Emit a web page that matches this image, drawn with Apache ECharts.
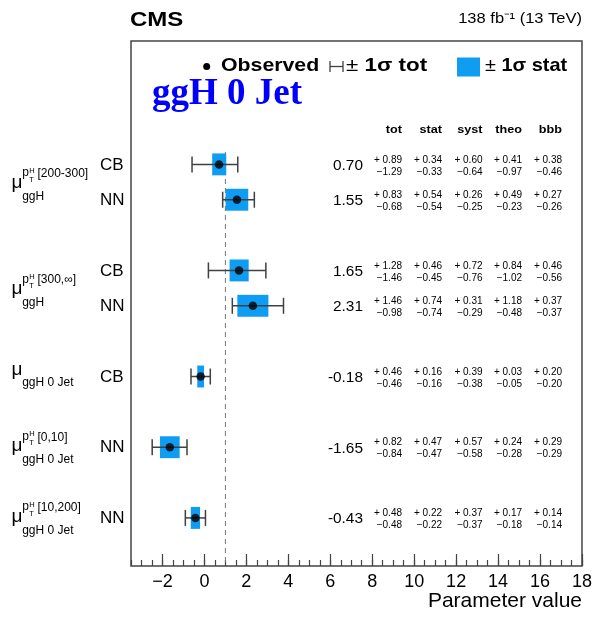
<!DOCTYPE html>
<html><head><meta charset="utf-8">
<script src="https://cdn.jsdelivr.net/npm/echarts@6/dist/echarts.min.js"></script>
<style>html,body{margin:0;padding:0;background:#fff}#c{width:595px;height:617px}</style>
</head><body><div id="c"></div>
<script>
// ---------------- data ----------------
const rowMethod = ['CB','NN','','CB','NN','','CB','','NN','','NN'];
const rowProc   = ['ggH','ggH','','ggH','ggH','','ggH 0 Jet','','ggH 0 Jet','','ggH 0 Jet'];
const rowBin    = ['[200-300]','[200-300]','','[300,\u221e]','[300,\u221e]','','','','[0,10]','','[10,200]'];
const observed  = [0.70, 1.55, null, 1.65, 2.31, null, -0.18, null, -1.65, null, -0.43];
const totUp  = [0.89, 0.83, null, 1.28, 1.46, null, 0.46, null, 0.82, null, 0.48];
const totDn  = [1.29, 0.68, null, 1.46, 0.98, null, 0.46, null, 0.84, null, 0.48];
const statUp = [0.34, 0.54, null, 0.46, 0.74, null, 0.16, null, 0.47, null, 0.22];
const statDn = [0.33, 0.54, null, 0.45, 0.74, null, 0.16, null, 0.47, null, 0.22];
const systUp = [0.60, 0.26, null, 0.72, 0.31, null, 0.39, null, 0.57, null, 0.37];
const systDn = [0.64, 0.25, null, 0.76, 0.29, null, 0.38, null, 0.58, null, 0.37];
const theoUp = [0.41, 0.49, null, 0.84, 1.18, null, 0.03, null, 0.24, null, 0.17];
const theoDn = [0.97, 0.23, null, 1.02, 0.48, null, 0.05, null, 0.28, null, 0.18];
const bbbUp  = [0.38, 0.27, null, 0.46, 0.37, null, 0.20, null, 0.29, null, 0.14];
const bbbDn  = [0.46, 0.26, null, 0.56, 0.37, null, 0.20, null, 0.29, null, 0.14];
const columnNames = ['tot','stat','syst','theo','bbb'];
const xTickValues = [-2, 0, 2, 4, 6, 8, 10, 12, 14, 16, 18];
const smValue = 1;

// ---------------- layout / style ----------------
const SANS = '"Liberation Sans", Arial, Helvetica, sans-serif';
const SERIF = '"Liberation Serif", "Times New Roman", serif';
const BLUE = '#0f9cf3';
const BAR = '#404040';
const X_MIN = -3.5, X_MAX = 18;
const Y_MIN = -3.49, Y_MAX = 11.36;
const BOX_H = 0.62;
const CAP = 16;
const colRight = [402, 442, 482.5, 522, 562];
const colUp = [totUp, statUp, systUp, theoUp, bbbUp];
const colDn = [totDn, statDn, systDn, theoDn, bbbDn];

function txt(x, y, text, font, o) {
  o = o || {};
  const al = o.align || 'left', va = o.va || 'middle';
  return {type: 'text', x: x, y: y, scaleX: o.sx || 1, scaleY: 1, silent: true, z2: 10,
    style: {text: text, font: font, fill: o.fill || '#000', align: al, verticalAlign: va,
            textAlign: al, textVerticalAlign: va, rich: o.rich}};
}

const rowsIdx = observed.map((v, i) => v == null ? null : i).filter(i => i != null);

// group rows into parameter labels
const groups = [];
rowProc.forEach((p, i) => {
  if (!p) return;
  const last = groups[groups.length - 1];
  if (last && last.proc === p && last.bin === rowBin[i] && last.end === i - 1) last.end = i;
  else groups.push({proc: p, bin: rowBin[i], start: i, end: i});
});

const fmt = v => v < 0 ? '\u2212' + Math.abs(v) : String(v);

const chart = echarts.init(document.getElementById('c'), null, {renderer: 'canvas'});
chart.setOption({
  animation: false,
  backgroundColor: '#fff',
  grid: {left: 131, right: 13, top: 41, bottom: 51, show: true, borderColor: '#444', borderWidth: 1.5, backgroundColor: 'transparent'},
  xAxis: [{
    type: 'value', min: X_MIN, max: X_MAX, position: 'bottom',
    axisLine: {show: false, onZero: false}, splitLine: {show: false},
    axisTick: {show: true, inside: true, length: 12, customValues: xTickValues, lineStyle: {color: '#444', width: 1.2}},
    axisLabel: {show: true, customValues: xTickValues, formatter: fmt, fontFamily: SANS, fontSize: 18, color: '#000', margin: 7},
    name: 'Parameter value', nameLocation: 'end', nameGap: 0,
    nameTextStyle: {fontFamily: SANS, fontSize: 21, color: '#000', align: 'right', verticalAlign: 'top', padding: [25, 0, 0, 0]}
  }, {
    type: 'value', min: X_MIN, max: X_MAX, interval: 0.5, position: 'bottom',
    axisLine: {show: false, onZero: false}, splitLine: {show: false}, axisLabel: {show: false},
    axisTick: {show: true, inside: true, length: 6, lineStyle: {color: '#444', width: 1.2}}
  }],
  yAxis: {type: 'value', inverse: true, min: Y_MIN, max: Y_MAX, show: false},
  series: [
    { // SM reference dashed line
      type: 'line', xAxisIndex: 0, symbol: 'none', silent: true, z: 1,
      lineStyle: {color: '#777', width: 1, type: [5, 4]},
      data: [[smValue, -0.35], [smValue, Y_MAX]]
    },
    { // stat boxes
      type: 'custom', xAxisIndex: 0, z: 2, silent: true,
      data: rowsIdx.map(i => [observed[i] - statDn[i], observed[i] + statUp[i], i]),
      encode: {x: [0, 1], y: 2},
      renderItem: function (params, api) {
        const p1 = api.coord([api.value(0), api.value(2)]);
        const p2 = api.coord([api.value(1), api.value(2)]);
        const h = api.size([0, BOX_H])[1];
        return {type: 'rect', shape: {x: p1[0], y: p1[1] - h / 2, width: p2[0] - p1[0], height: h}, style: {fill: BLUE}};
      }
    },
    { // total error bars
      type: 'custom', xAxisIndex: 0, z: 3, silent: true,
      data: rowsIdx.map(i => [observed[i] - totDn[i], observed[i] + totUp[i], i]),
      encode: {x: [0, 1], y: 2},
      renderItem: function (params, api) {
        const p1 = api.coord([api.value(0), api.value(2)]);
        const p2 = api.coord([api.value(1), api.value(2)]);
        const st = {stroke: BAR, lineWidth: 1.5};
        return {type: 'group', children: [
          {type: 'line', shape: {x1: p1[0], y1: p1[1], x2: p2[0], y2: p2[1]}, style: st},
          {type: 'line', shape: {x1: p1[0], y1: p1[1] - CAP / 2, x2: p1[0], y2: p1[1] + CAP / 2}, style: st},
          {type: 'line', shape: {x1: p2[0], y1: p2[1] - CAP / 2, x2: p2[0], y2: p2[1] + CAP / 2}, style: st}
        ]};
      }
    },
    { // observed points
      type: 'scatter', xAxisIndex: 0, z: 4, silent: true,
      symbol: 'circle', symbolSize: 8.5, itemStyle: {color: '#000'},
      data: rowsIdx.map(i => [observed[i], i])
    },
    { // per-row texts
      type: 'custom', xAxisIndex: 0, z: 5, silent: true,
      data: rowsIdx.map(i => [observed[i], i]),
      renderItem: function (params, api) {
        const i = api.value(1);
        const y = api.coord([0, i])[1];
        const ch = [];
        ch.push(txt(100, y + 0.5, rowMethod[i], '17px ' + SANS));
        ch.push(txt(363, y + 1.5, observed[i].toFixed(2), '14px ' + SANS, {align: 'right', sx: 1.1}));
        for (let c = 0; c < 5; c++) {
          ch.push(txt(colRight[c], y - 4.6, '+ ' + colUp[c][i].toFixed(2), '10px ' + SANS, {align: 'right'}));
          ch.push(txt(colRight[c], y + 7.4, '\u2212' + colDn[c][i].toFixed(2), '10px ' + SANS, {align: 'right'}));
        }
        return {type: 'group', children: ch};
      }
    },
    { // parameter labels
      type: 'custom', xAxisIndex: 0, z: 5, silent: true,
      data: groups.map(g => [0, (g.start + g.end) / 2]),
      renderItem: function (params, api) {
        const g = groups[params.dataIndex];
        const yc = api.coord([0, api.value(1)])[1];
        const hasBin = !!g.bin;
        const a = yc + (hasBin ? (g.end > g.start ? 3.5 : 1.5) : -4.5);
        const ch = [
          txt(11.5, a - 2.5, '\u03bc', '19px ' + SANS),
          txt(22.2, a + 11, g.proc, '12px ' + SANS)
        ];
        if (hasBin) {
          ch.push(txt(22.2, a - 12.4, 'p', '12px ' + SANS));
          ch.push(txt(29.3, a - 14.5, 'H', '7.5px ' + SANS));
          ch.push(txt(29.3, a - 5.5, 'T', '7.5px ' + SANS));
          ch.push(txt(37.5, a - 11.5, g.bin, '12px ' + SANS));
        }
        return {type: 'group', children: ch};
      }
    }
  ],
  graphic: [
    txt(130, 20, 'CMS', 'bold 20px ' + SANS, {sx: 1.2}),
    txt(582, 19, '138 fb\u207b\u00b9 (13 TeV)', '15px ' + SANS, {align: 'right', sx: 1.1}),
    {type: 'circle', shape: {cx: 206.7, cy: 66.5, r: 3.5}, style: {fill: '#000'}, silent: true},
    txt(221, 65.5, 'Observed', 'bold 19px ' + SANS, {sx: 1.12}),
    {type: 'group', silent: true, children: [
      {type: 'line', shape: {x1: 330, y1: 66.5, x2: 343, y2: 66.5}, style: {stroke: BAR, lineWidth: 1.3}},
      {type: 'line', shape: {x1: 330, y1: 61, x2: 330, y2: 72}, style: {stroke: BAR, lineWidth: 1.3}},
      {type: 'line', shape: {x1: 343, y1: 61, x2: 343, y2: 72}, style: {stroke: BAR, lineWidth: 1.3}}
    ]},
    txt(346, 65.5, '{r|\u00b1} {b|1\u03c3 tot}', '19px ' + SANS, {sx: 1.18, rich: {r: {font: '19px ' + SANS}, b: {font: 'bold 19px ' + SANS}}}),
    {type: 'rect', shape: {x: 457, y: 57.5, width: 23, height: 19}, style: {fill: BLUE}, silent: true},
    txt(485, 65.5, '{r|\u00b1} {b|1\u03c3 stat}', '19px ' + SANS, {sx: 1.05, rich: {r: {font: '19px ' + SANS}, b: {font: 'bold 19px ' + SANS}}}),
    txt(152, 94, 'ggH 0 Jet', 'bold 37px ' + SERIF, {fill: '#0000ff'}),
    ...columnNames.map((n, c) => txt(colRight[c], 130, n, 'bold 11px ' + SANS, {align: 'right', sx: 1.15}))
  ]
});
</script>
</body></html>
